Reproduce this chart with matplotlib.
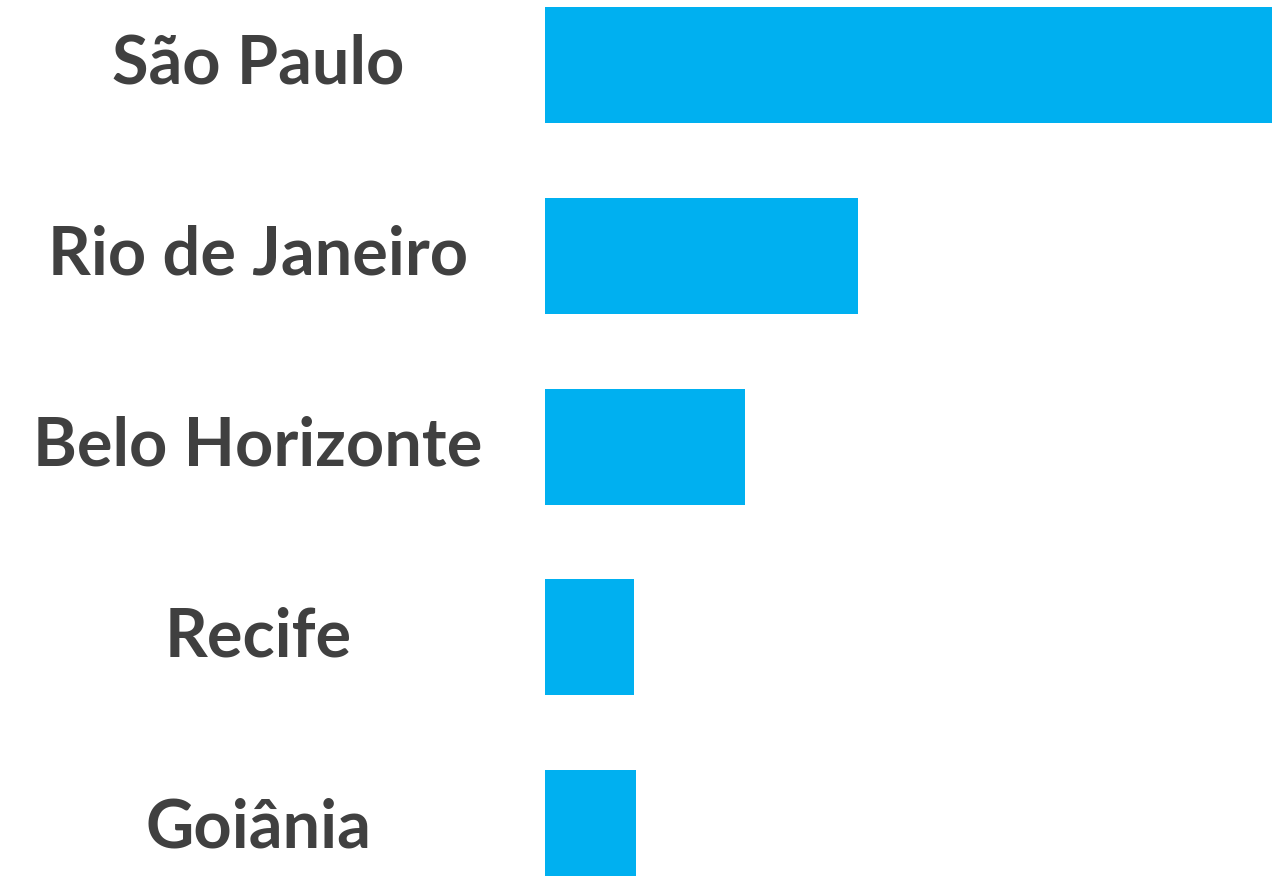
import matplotlib
matplotlib.use("Agg")
import matplotlib.pyplot as plt
from matplotlib.transforms import blended_transform_factory

cities = ["São Paulo", "Rio de Janeiro", "Belo Horizonte", "Recife", "Goiânia"]
values = [100, 43, 27.5, 12.2, 12.5]

W, H = 1272, 876
fig = plt.figure(figsize=(W / 100, H / 100), dpi=100)
fig.patch.set_facecolor("white")
ax = fig.add_axes([545 / W, 0, 1 - 545 / W, 1])

step = 190.75
ypos = list(range(len(cities)))
ax.barh(ypos, values, height=116 / step, color="#00B0F0", left=0)
ax.set_xlim(0, max(values))
ax.set_ylim(4 + 48 / step, -65 / step)
ax.axis("off")

trans = blended_transform_factory(fig.transFigure, ax.transData)
for y, c in zip(ypos, cities):
    ax.text(258 / W, y, c, transform=trans, ha="center", va="center",
            fontsize=48, fontweight="bold", color="#404040", family="Lato",
            clip_on=False)

fig.savefig("out.png", dpi=100, facecolor="white")
